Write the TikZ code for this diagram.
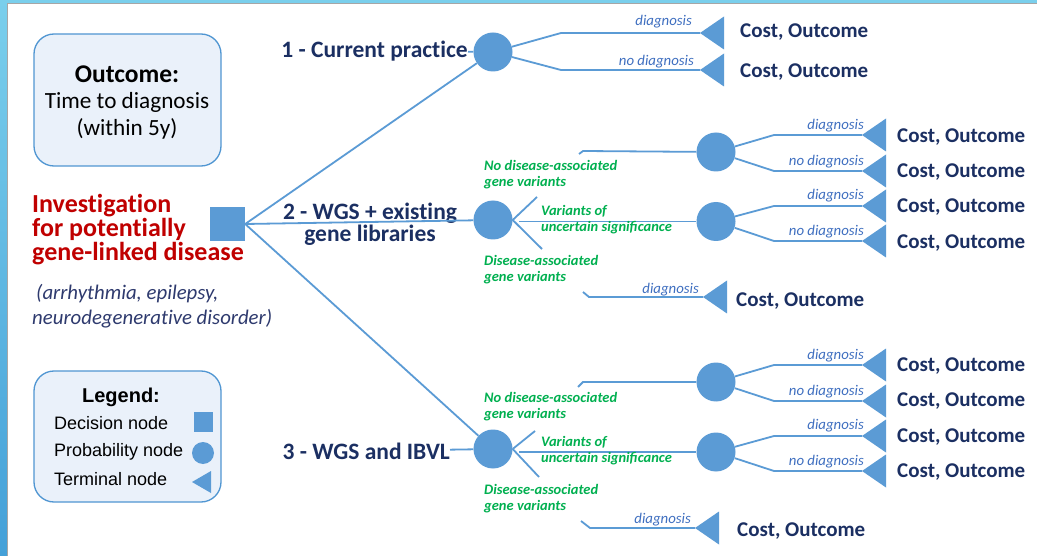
\documentclass[tikz,border=0pt]{standalone}
\usepackage{fontspec}
\setmainfont{Carlito}
\newfontfamily\arialfont{Liberation Sans}
\newfontfamily\noligfont[Ligatures=NoCommon]{Carlito}
\definecolor{nodeblue}{HTML}{5B9BD5}
\definecolor{navy}{HTML}{1B2F62}
\definecolor{slate}{HTML}{2E3A6E}
\definecolor{lblblue}{HTML}{3F6FC0}
\definecolor{grn}{HTML}{00B050}
\definecolor{darkred}{HTML}{C00000}
\definecolor{boxfill}{HTML}{EAF1FA}
\definecolor{boxline}{HTML}{5096D2}
\definecolor{striptop}{HTML}{7ACFEC}
\definecolor{stripbot}{HTML}{44A0D8}
\tikzset{
  edge/.style={draw=nodeblue, line width=1.8pt},
  prob/.style={circle, fill=nodeblue, minimum size=39pt, inner sep=0pt},
  cost/.style={anchor=west, inner sep=0pt, text=navy, font=\fontsize{21}{24}\selectfont\bfseries},
  optlbl/.style={inner sep=0pt, text=navy, font=\noligfont\fontsize{23.5}{22}\selectfont\bfseries},
  brlbl/.style={anchor=east, inner sep=0pt, text=lblblue, font=\fontsize{14.8}{16}\selectfont\itshape},
  grnlbl/.style={anchor=west, inner sep=0pt, align=left, text=grn, font=\fontsize{14.5}{16}\selectfont\bfseries\itshape},
  infobox/.style={draw=boxline, fill=boxfill, line width=1.3pt, rounded corners=20pt, minimum width=187pt, inner sep=0pt},
  legtxt/.style={anchor=west, inner sep=0pt, font=\arialfont\fontsize{18}{20}\selectfont},
}
\newcommand\termtri[2]{\coordinate (#1) at #2; \fill[nodeblue] (#1) -- ++(24,-16.5) -- ++(0,33) -- cycle;}
\begin{document}
\begin{tikzpicture}[x=1pt,y=-1pt]
\useasboundingbox (0,0) rectangle (1037,556);
% frame
\fill[white] (0,0) rectangle (1037,556);
\fill[striptop] (0,0) rectangle (1037,3.2);
\shade[top color=striptop, bottom color=stripbot] (0,0) rectangle (7,556);
\draw[gray!70, line width=0.9pt] (7.5,556) -- (7.5,3.6) -- (1037,3.6);

% left info
\node[infobox, minimum height=132pt] (outbox) at (127.5,100) {};
\node[inner sep=0pt, font=\fontsize{25.5}{28}\selectfont\bfseries] (outt) at (127,74) {Outcome:};
\node[inner sep=0pt, font=\fontsize{23.2}{26}\selectfont] (outa) at (127,102) {Time to diagnosis};
\node[inner sep=0pt, font=\fontsize{23.2}{26}\selectfont] (outb) at (127,129) {(within 5y)};

\node[anchor=west, inner sep=0pt, align=left, text=darkred, font=\noligfont\fontsize{26}{24}\selectfont\bfseries] (inv) at (32,230) {Investigation\\for potentially\\gene-linked disease};
\node[anchor=west, inner sep=0pt, text=slate, font=\noligfont\fontsize{20.8}{22}\selectfont\itshape] (it1) at (36,294) {(arrhythmia, epilepsy,};
\node[anchor=west, inner sep=0pt, text=slate, font=\noligfont\fontsize{20.8}{22}\selectfont\itshape] (it2) at (32,319) {neurodegenerative disorder)};

% legend
\node[infobox, minimum height=131pt] (legbox) at (127.5,436.5) {};
\node[inner sep=0pt, font=\arialfont\fontsize{20}{22}\selectfont\bfseries] (legt) at (121,397) {Legend:};
\node[legtxt] (leg1) at (54,423) {Decision node};
\node[legtxt] (leg2) at (54,452) {Probability node};
\node[legtxt] (leg3) at (54,479) {Terminal node};
\node[fill=nodeblue, minimum width=19pt, minimum height=20pt, inner sep=0pt] (legsq) at (203.5,422) {};
\node[circle, fill=nodeblue, minimum size=22pt, inner sep=0pt] (legci) at (203,453) {};
\coordinate (legtr) at (192,482);
\fill[nodeblue] (legtr) -- ++(19,-11) -- ++(0,22) -- cycle;

% decision node
\node[fill=nodeblue, minimum width=35pt, minimum height=34pt, inner sep=0pt] (dec) at (227.5,224) {};

% probability nodes
\node[prob] (c1) at (493,52) {};
\node[prob] (c2) at (493,220) {};
\node[prob] (c3) at (493,449) {};
\node[prob] (cA) at (716,152) {};
\node[prob] (cB) at (716,221.5) {};
\node[prob] (cC) at (716,382) {};
\node[prob] (cD) at (716,452) {};

% option labels
\node[optlbl, anchor=east] (o1) at (468,51) {1 - Current practice};
\node[optlbl, align=center] (o2) at (370,224) {2 - WGS + existing\\gene libraries};
\node[optlbl, anchor=east] (o3) at (450,451) {3 - WGS and IBVL};

% main edges
\draw[edge] (dec.east) -- (c1);
\draw[edge] (dec.east) -- (c2);
\draw[edge] (dec.east) -- (c3);
\draw[edge] (o1) -- (c1);
\draw[edge] (o3) -- (c3);

% terminals group 1
\termtri{t1a}{(700,33)}
\termtri{t1b}{(700,70)}
\coordinate (b1a) at (561,33);
\coordinate (b1b) at (561,70);
\draw[edge] (c1) -- (b1a) -- (t1a);
\draw[edge] (c1) -- (b1b) -- (t1b);
\node[brlbl] (l1a) at (692,22) {diagnosis};
\node[brlbl] (l1b) at (694,62) {no diagnosis};
\node[cost] (k1a) at (740,32) {Cost, Outcome};
\node[cost] (k1b) at (740,72) {Cost, Outcome};

% group 2
\coordinate (u2s) at (537,197);
\coordinate (u2a) at (579,154);
\coordinate (u2b) at (583,151);
\coordinate (m2) at (519,221.5);
\coordinate (d2s) at (542,249);
\coordinate (d2a) at (583,292);
\coordinate (d2b) at (589,297);
\draw[edge] (c2.east) -- (u2s);
\draw[edge] (u2a) -- (u2b) -- (cA);
\draw[edge] (m2) -- (cB);
\draw[edge] (c2.east) -- (d2s);
\termtri{t2e}{(703,297)}
\draw[edge] (d2a) -- (d2b) -- (t2e);
\node[brlbl] (l2e) at (699,290) {diagnosis};
\node[cost] (k2e) at (736,301) {Cost, Outcome};

\node[grnlbl] (g2a) at (484,175) {No disease-associated\\gene variants};
\node[grnlbl] (g2b) at (541,220) {Variants of\\uncertain significance};
\node[grnlbl] (g2c) at (484,270) {Disease-associated\\gene variants};

\termtri{t2a}{(862,135)}
\termtri{t2b}{(862,171)}
\termtri{t2c}{(862,206)}
\termtri{t2d}{(862,241)}
\coordinate (b2a) at (774,135);
\coordinate (b2b) at (774,171);
\coordinate (b2c) at (774,206);
\coordinate (b2d) at (774,241);
\draw[edge] (cA) -- (b2a) -- (t2a);
\draw[edge] (cA) -- (b2b) -- (t2b);
\draw[edge] (cB) -- (b2c) -- (t2c);
\draw[edge] (cB) -- (b2d) -- (t2d);
\node[brlbl] (l2a) at (864,126) {diagnosis};
\node[brlbl] (l2b) at (864,162) {no diagnosis};
\node[brlbl] (l2c) at (864,196) {diagnosis};
\node[brlbl] (l2d) at (864,232) {no diagnosis};
\node[cost] (k2a) at (897,137) {Cost, Outcome};
\node[cost] (k2b) at (897,172) {Cost, Outcome};
\node[cost] (k2c) at (897,207) {Cost, Outcome};
\node[cost] (k2d) at (897,243) {Cost, Outcome};

% group 3
\coordinate (u3s) at (535,431);
\coordinate (u3a) at (578,387);
\coordinate (u3b) at (583,382);
\coordinate (m3) at (519,452);
\coordinate (d3s) at (539,477);
\coordinate (d3a) at (581,521);
\coordinate (d3b) at (590,528);
\draw[edge] (c3.east) -- (u3s);
\draw[edge] (u3a) -- (u3b) -- (cC);
\draw[edge] (m3) -- (cD);
\draw[edge] (c3.east) -- (d3s);
\termtri{t3e}{(695,528)}
\draw[edge] (d3a) -- (d3b) -- (t3e);
\node[brlbl] (l3e) at (691,520) {diagnosis};
\node[cost] (k3e) at (737,531) {Cost, Outcome};

\node[grnlbl] (g3a) at (484,407) {No disease-associated\\gene variants};
\node[grnlbl] (g3b) at (541,451) {Variants of\\uncertain significance};
\node[grnlbl] (g3c) at (484,499) {Disease-associated\\gene variants};

\termtri{t3a}{(862,365)}
\termtri{t3b}{(862,401)}
\termtri{t3c}{(862,436)}
\termtri{t3d}{(862,471)}
\coordinate (b3a) at (774,365);
\coordinate (b3b) at (774,401);
\coordinate (b3c) at (774,436);
\coordinate (b3d) at (774,471);
\draw[edge] (cC) -- (b3a) -- (t3a);
\draw[edge] (cC) -- (b3b) -- (t3b);
\draw[edge] (cD) -- (b3c) -- (t3c);
\draw[edge] (cD) -- (b3d) -- (t3d);
\node[brlbl] (l3a) at (864,356) {diagnosis};
\node[brlbl] (l3b) at (864,392) {no diagnosis};
\node[brlbl] (l3c) at (864,426) {diagnosis};
\node[brlbl] (l3d) at (864,462) {no diagnosis};
\node[cost] (k3a) at (897,366) {Cost, Outcome};
\node[cost] (k3b) at (897,401) {Cost, Outcome};
\node[cost] (k3c) at (897,437) {Cost, Outcome};
\node[cost] (k3d) at (897,472) {Cost, Outcome};
\end{tikzpicture}
\end{document}
